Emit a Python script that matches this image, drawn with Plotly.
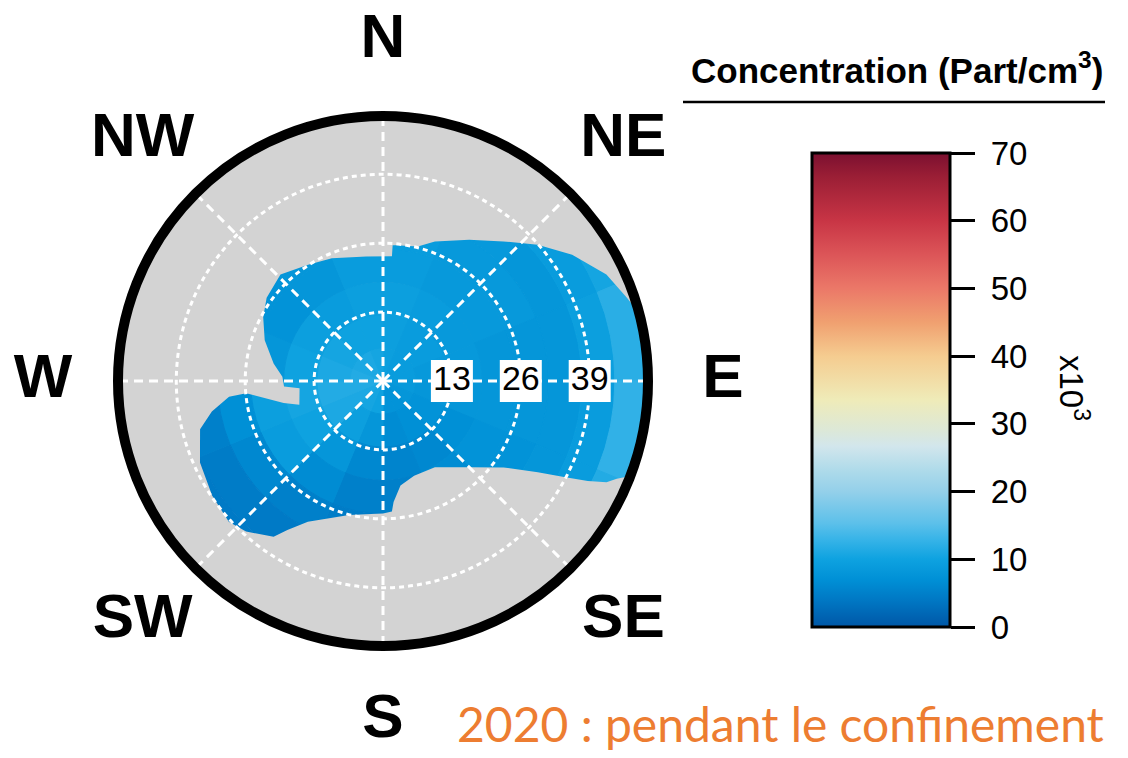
import plotly.graph_objects as go

W, H = 1128, 758

# ---------------- data ----------------
radial_max = 50
radial_ticks = [13, 26, 39]
radial_tick_text = ["13", "26", "39"]
compass_angles = [0, 45, 90, 135, 180, 225, 270, 315]
compass_labels = ["N", "NE", "E", "SE", "S", "SW", "W", "NW"]

# wind-direction sectors (centre, degrees) and wind-speed bands
sector_centres = [11.25, 33.75, 56.25, 78.75, 101.25, 123.75, 146.25, 168.75,
                  191.25, 213.75, 236.25, 258.75, 281.25, 303.75, 326.25, 348.75]
sector_width = 22.5
band_starts = [0, 6.25, 12.5, 18.75, 25, 31.25, 37.5, 43.75]
band_depth = 6.25

# concentration (x10^3 part/cm3) per speed band, one value per sector
conc_band_0 = [9.5, 9, 9, 9, 8.5, 8, 7.5, 7.5, 10, 10.5, 11, 11.5, 11.5, 11, 11, 10.5]
conc_band_1 = [9.5, 9, 9, 8.5, 8, 7.5, 7, 6.5, 8, 9.5, 11, 11.5, 11, 10.5, 10, 10]
conc_band_2 = [9.5, 9, 8.5, 8.5, 8, 7, 6, 5.5, 6, 8, 10, 10.5, 10, 9.5, 9, 9.5]
conc_band_3 = [9, 8.5, 8.5, 8, 8, 7.5, 6.5, 5, 5, 6.5, 9, 9.5, 8, 7.5, 8, 9]
conc_band_4 = [9, 8.5, 8.5, 8, 8, 7.5, 6, 5, 4.5, 5, 6, 7, 7.5, 7.5, 8, 9]
conc_band_5 = [9, 8.5, 8, 8, 8, 8, 6, 5, 4.5, 4.3, 4.5, 5, 7, 7, 8, 9]
conc_band_6 = [9, 9, 9, 9.5, 9, 9, 6, 5, 4.5, 4.3, 4.3, 5, 7, 7, 8, 9]
conc_band_7 = [9, 9.5, 10.5, 12, 12.5, 11.5, 6, 5, 4.5, 4.3, 4.3, 5, 7, 7, 8, 9]
conc_bands = [conc_band_0, conc_band_1, conc_band_2, conc_band_3,
              conc_band_4, conc_band_5, conc_band_6, conc_band_7]

# outline of the area with data (direction in degrees, wind speed)
blob_theta = [3.9, 14.5, 20.4, 31.4, 40.8, 48.6, 56.3, 64.5, 71.1, 75.2, 80, 85, 90,
              95, 100, 105, 111, 112.7, 114.4, 116, 117.8, 120.5, 125.6, 135, 149,
              161.8, 170.5, 175, 176.1, 180, 194.2, 208.1, 212.7, 215.1, 222.3,
              227.6, 236.2, 246, 255.2, 259.9, 264.2, 264.9, 257.5, 254.2, 265.1,
              266.8, 272.4, 279.1, 289, 298, 305.6, 316.1, 327.2, 337.4, 352.3, 364.1]
blob_r = [25.7, 26.2, 28.1, 31.2, 34.8, 38.9, 42.9, 46.7, 48.6, 50, 50, 50, 50,
          50, 50, 50, 50, 47.8, 46.3, 43, 38.9, 33.9, 28, 23, 19,
          18.8, 20, 22.9, 24.7, 25, 26.1, 30.1, 33.4, 35.9, 38.4,
          39.4, 38.8, 37.8, 35.7, 32.8, 29.2, 25.9, 19.2, 16.4, 15.8,
          18.7, 19, 20.9, 23.6, 25.6, 27, 27.9, 26.1, 25.1, 23.7, 23.6]

colorbar_ticks = [0, 10, 20, 30, 40, 50, 60, 70]
c_min, c_max = 0, 70

# ---------------- style ----------------
scale_points = [0, 1, 4, 7, 10, 13, 15.3, 20, 23, 26.7, 29, 33.6, 40, 45, 50, 55, 60, 66.6, 70]
scale_colours = ["#0058A8", "#005FAE", "#0078C4", "#0090D6", "#0EA2E0", "#38B4E8",
                 "#5CC0EA", "#94D0EA", "#ADDAEA", "#D2E6EC", "#DCE8D8", "#EFEBB8",
                 "#F5CC90", "#F0A070", "#EB7868", "#DC5558", "#C83545", "#9A1E35", "#7B1030"]
colorscale = [[(p - c_min) / (c_max - c_min), c] for p, c in zip(scale_points, scale_colours)]

GREY = "#D3D3D3"
FONT = "Liberation Sans"
NBSP = "\u00a0"

# ---------------- traces ----------------
cell_theta, cell_base, cell_len, cell_val = [], [], [], []
for b0, row in zip(band_starts, conc_bands):
    for th, v in zip(sector_centres, row):
        cell_theta.append(th)
        cell_base.append(b0)
        cell_len.append(band_depth)
        cell_val.append(v)

field = go.Barpolar(
    theta=cell_theta, r=cell_len, base=cell_base, width=sector_width,
    marker=dict(color=cell_val, coloraxis="coloraxis",
                line=dict(width=1, color=cell_val, colorscale=colorscale,
                          cmin=c_min, cmax=c_max)),
    hoverinfo="skip", showlegend=False, subplot="polar",
)

# grey mask outside the data outline (outer edge of the plot, then outline reversed)
outer_theta = [blob_theta[0] + 5 * k for k in range(73)]
mask_theta = outer_theta + blob_theta[::-1]
mask_r = [radial_max] * len(outer_theta) + blob_r[::-1]
mask = go.Scatterpolar(
    theta=mask_theta, r=mask_r, mode="lines", fill="toself", fillcolor=GREY,
    line=dict(width=0, color=GREY), hoverinfo="skip", showlegend=False, subplot="polar",
)

speed_labels = go.Scatterpolar(
    theta=[90] * len(radial_ticks), r=radial_ticks, text=radial_tick_text,
    mode="markers+text", textposition="middle center",
    marker=dict(symbol="square", size=42, color="white", line=dict(width=0)),
    textfont=dict(family=FONT, size=34, color="black"),
    cliponaxis=False, hoverinfo="skip", showlegend=False, subplot="polar2",
)

compass = go.Scatterpolar(
    theta=compass_angles, r=[radial_max] * len(compass_angles), text=compass_labels,
    mode="text", textposition="middle center",
    textfont=dict(family=FONT, size=62, color="black", weight="bold"),
    cliponaxis=False, hoverinfo="skip", showlegend=False, subplot="polar3",
)

fig = go.Figure([field, mask, speed_labels, compass])

cx, cy, R = 383, 381, 265
RL = 340
dom_x = [(cx - R) / W, (cx + R) / W]
dom_y = [1 - (cy + R) / H, 1 - (cy - R) / H]
lab_x = [(cx - RL) / W, (cx + RL) / W]
lab_y = [1 - (cy + RL) / H, 1 - (cy - RL) / H]

hidden_radial = dict(range=[0, radial_max], showgrid=False, showline=False,
                     showticklabels=False, ticks="")
hidden_angular = dict(rotation=90, direction="clockwise", showgrid=False, showline=False,
                      showticklabels=False, ticks="")

fig.update_layout(
    width=W, height=H, margin=dict(l=0, r=0, t=0, b=0),
    paper_bgcolor="white", plot_bgcolor="white",
    polar=dict(domain=dict(x=dom_x, y=dom_y), bgcolor=GREY,
               radialaxis=hidden_radial, angularaxis=hidden_angular),
    polar2=dict(
        domain=dict(x=dom_x, y=dom_y), bgcolor="rgba(0,0,0,0)",
        radialaxis=dict(range=[0, radial_max], tickvals=radial_ticks, showticklabels=False,
                        ticks="", showline=False, showgrid=True, gridcolor="white",
                        griddash="5px,4px", gridwidth=2.5),
        angularaxis=dict(rotation=90, direction="clockwise", tickmode="array",
                         tickvals=compass_angles, showticklabels=False, ticks="",
                         showgrid=True, gridcolor="white", griddash="9px,6px", gridwidth=2.5,
                         showline=True, linecolor="black", linewidth=10),
    ),
    polar3=dict(domain=dict(x=lab_x, y=lab_y), bgcolor="rgba(0,0,0,0)",
                radialaxis=hidden_radial, angularaxis=hidden_angular),
    coloraxis=dict(
        cmin=c_min, cmax=c_max, colorscale=colorscale,
        colorbar=dict(
            x=812 / W, xanchor="left", xpad=0, ypad=0,
            y=1 - 390 / H, yanchor="middle",
            len=474, lenmode="pixels", thickness=138, thicknessmode="pixels",
            outlinewidth=3, outlinecolor="black",
            ticks="outside", ticklen=24, tickwidth=2.5, tickcolor="black",
            tickvals=colorbar_ticks, ticktext=[NBSP + str(t) for t in colorbar_ticks],
            tickfont=dict(family=FONT, size=33, color="black"),
        ),
    ),
    annotations=[
        dict(text="<b>Concentration (Part/cm<sup>3</sup>)</b>", xref="paper", yref="paper",
             x=1105 / W, y=1 - 92 / H, xanchor="right", yanchor="bottom", showarrow=False,
             font=dict(family=FONT, size=35, color="black")),
        dict(text="x10<sup>3</sup>", xref="paper", yref="paper", textangle=90,
             x=1074 / W, y=1 - 388 / H, xanchor="center", yanchor="middle", showarrow=False,
             font=dict(family=FONT, size=33, color="black")),
        dict(text="2020 : pendant le confinement", xref="paper", yref="paper",
             x=455 / W, y=1 - 754 / H, xanchor="left", yanchor="bottom", showarrow=False,
             font=dict(family="Lato", size=48, color="#ED7D31")),
    ],
    shapes=[dict(type="line", xref="paper", yref="paper", x0=683 / W, x1=1105 / W,
                 y0=1 - 102 / H, y1=1 - 102 / H, line=dict(color="black", width=2.5))],
)

fig.write_html("out.html")
